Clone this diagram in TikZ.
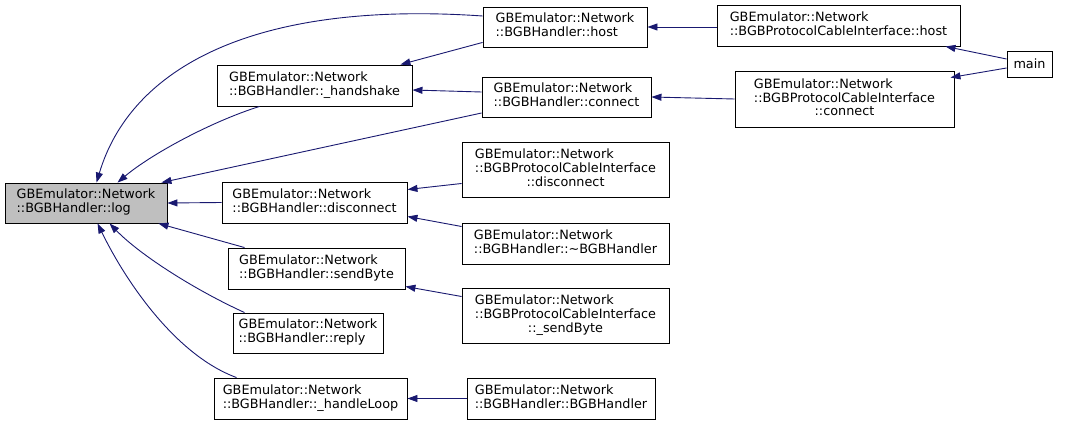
\documentclass[tikz,border=0pt]{standalone}
\usepackage{fontspec}
\setmainfont{DejaVu Sans}
\usetikzlibrary{arrows.meta,calc}
\definecolor{edgeblue}{RGB}{25,25,112}
\definecolor{hlgray}{RGB}{191,191,191}
\newcommand\lbl[1]{\begin{tabular}{@{}l@{}}#1\end{tabular}}
\begin{document}
\begin{tikzpicture}[x=1pt,y=-1pt,
  fn/.style={draw=black,line width=0.9pt,fill=white,inner sep=0pt,
    font=\fontsize{12.8}{13.4}\selectfont,align=center},
  edge/.style={draw=edgeblue,line width=0.9pt,-{Triangle[length=10pt,width=7pt]}}]
\useasboundingbox (0,0) rectangle (1068,425);
\node[fn,fill=hlgray,minimum width=162pt,minimum height=40pt] (log) at (86,203) {\lbl{GBEmulator::Network\\::BGBHandler::log}};
\node[fn,minimum width=164pt,minimum height=40pt] (host) at (565,27) {\lbl{GBEmulator::Network\\::BGBHandler::host}};
\node[fn,minimum width=195pt,minimum height=41pt] (handshake) at (314.5,85.5) {\lbl{GBEmulator::Network\\::BGBHandler::\_handshake}};
\node[fn,minimum width=169pt,minimum height=40pt] (connect) at (566.5,97) {\lbl{GBEmulator::Network\\::BGBHandler::connect}};
\node[fn,minimum width=243pt,minimum height=41pt] (pcihost) at (838.5,25.5) {\lbl{GBEmulator::Network\\::BGBProtocolCableInterface::host}};
\node[fn,minimum width=45pt,minimum height=26pt] (main) at (1029.5,64) {main};
\node[fn,minimum width=219pt,minimum height=56pt] (pciconnect) at (844.5,99) {\lbl{GBEmulator::Network\\::BGBProtocolCableInterface\\\multicolumn{1}{@{}c@{}}{::connect}}};
\node[fn,minimum width=185pt,minimum height=41pt] (disconnect) at (314.5,202.5) {\lbl{GBEmulator::Network\\::BGBHandler::disconnect}};
\node[fn,minimum width=207pt,minimum height=55pt] (pcidisconnect) at (565.5,169.5) {\lbl{GBEmulator::Network\\::BGBProtocolCableInterface\\\multicolumn{1}{@{}c@{}}{::disconnect}}};
\node[fn,minimum width=207pt,minimum height=41pt] (dtor) at (565.5,243.5) {\lbl{GBEmulator::Network\\::BGBHandler::\textasciitilde BGBHandler}};
\node[fn,minimum width=177pt,minimum height=41pt] (sendByte) at (316.5,268.5) {\lbl{GBEmulator::Network\\::BGBHandler::sendByte}};
\node[fn,minimum width=150pt,minimum height=40pt] (reply) at (308,333) {\lbl{GBEmulator::Network\\::BGBHandler::reply}};
\node[fn,minimum width=207pt,minimum height=55pt] (pcisendByte) at (565.5,315.5) {\lbl{GBEmulator::Network\\::BGBProtocolCableInterface\\\multicolumn{1}{@{}c@{}}{::\_sendByte}}};
\node[fn,minimum width=193pt,minimum height=41pt] (handleLoop) at (310.5,398.5) {\lbl{GBEmulator::Network\\::BGBHandler::\_handleLoop}};
\node[fn,minimum width=188pt,minimum height=41pt] (ctor) at (561,398.5) {\lbl{GBEmulator::Network\\::BGBHandler::BGBHandler}};

\draw[edge] ($(host.west)+(0,-11)$) .. controls (250,0) and (130,70) .. ($(log.north west)+(92,0)$);
\draw[edge] ($(handshake.south west)+(43,0)$) .. controls (210,122) and (150,155) .. ($(log.north west)+(113,0)$);
\draw[edge] ($(connect.west)+(0,16)$) -- ($(log.north east)+(-6,0)$);
\draw[edge] (disconnect.west) -- (log.east);
\draw[edge] ($(sendByte.north west)+(17,0)$) -- ($(log.south east)+(-9,0)$);
\draw[edge] ($(reply.north west)+(12,0)$) .. controls (195,290) and (140,255) .. ($(log.south west)+(105,0)$);
\draw[edge] ($(handleLoop.north west)+(23,0)$) .. controls (175,355) and (125,280) .. ($(log.south west)+(93,0)$);
\draw[edge] ($(host.south west)+(0,-5)$) -- ($(handshake.north east)+(-12,0)$);
\draw[edge] ($(connect.west)+(0,-5)$) -- ($(handshake.east)+(0,4.5)$);
\draw[edge] ($(pcihost.west)+(0,1.5)$) -- (host.east);
\draw[edge] (pciconnect.west) -- (connect.east);
\draw[edge] ($(main.west)+(0,-5)$) -- ($(pcihost.south east)+(-15,0)$);
\draw[edge] ($(main.west)+(0,4)$) -- ($(pciconnect.north east)+(-4,7)$);
\draw[edge] ($(pcidisconnect.west)+(0,14)$) -- ($(disconnect.east)+(0,-13)$);
\draw[edge] ($(dtor.west)+(0,-17)$) -- ($(disconnect.east)+(0,14)$);
\draw[edge] ($(pcisendByte.west)+(0,-19)$) -- ($(sendByte.east)+(0,18)$);
\draw[edge] (ctor.west) -- (handleLoop.east);
\end{tikzpicture}
\end{document}
